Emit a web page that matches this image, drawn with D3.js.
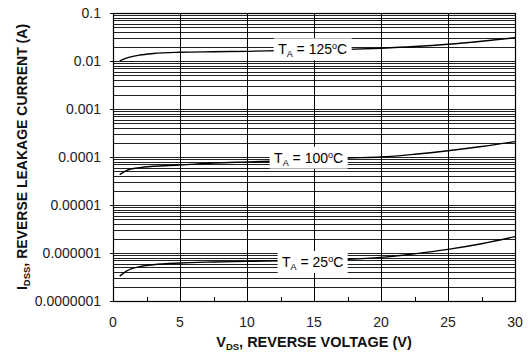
<!DOCTYPE html>
<html>
<head>
<meta charset="utf-8">
<script src="https://cdn.jsdelivr.net/npm/d3@7"></script>
<style>
  body { margin: 0; background: #fff; }
  text { font-family: "Liberation Sans", Arial, sans-serif; }
</style>
</head>
<body>
<div id="chart"></div>
<script>
// reverse leakage current vs reverse voltage, three temperatures
const vds = [0.5, 1, 2, 3, 5, 7.5, 10, 12.5, 15, 17.5, 20, 22.5, 25, 27.5, 30];
const i125 = [0.0101, 0.0115, 0.0133, 0.0143, 0.0152, 0.0156, 0.0159, 0.0165, 0.0170, 0.0175, 0.0185, 0.0200, 0.0223, 0.0258, 0.0306];
const i100 = [0.000043, 0.000052, 0.000060, 0.000064, 0.000068, 0.000075, 0.000079, 0.000083, 0.000088, 0.000095, 0.000100, 0.000114, 0.000135, 0.000165, 0.000209];
const i25 = [0.00000033, 0.00000042, 0.00000052, 0.00000057, 0.00000062, 0.00000065, 0.00000067, 0.00000069, 0.00000071, 0.00000074, 0.00000081, 0.00000096, 0.00000119, 0.00000156, 0.00000219];
const seriesNames = ['125', '100', '25'];
const labelPos = [[14.9, 0.0175], [14.6, 0.000097], [14.9, 0.00000065]]; // label anchor (V, A)
const yTicks = [0.1, 0.01, 0.001, 0.0001, 0.00001, 0.000001, 0.0000001];
const yTickLabels = ['0.1', '0.01', '0.001', '0.0001', '0.00001', '0.000001', '0.0000001'];
const xTicks = [0, 5, 10, 15, 20, 25, 30];

const width = 531, height = 356;
const margin = {top: 13, right: 16, bottom: 55, left: 113};
const plotW = width - margin.left - margin.right;
const plotH = height - margin.top - margin.bottom;

const svg = d3.select('#chart').append('svg')
    .attr('width', width)
    .attr('height', height);
const g = svg.append('g')
    .attr('transform', 'translate(' + margin.left + ',' + margin.top + ')');

const scaleX = d3.scaleLinear().domain([0, 30]).range([0, plotW]);
const scaleY = d3.scaleLog().domain([0.0000001, 0.1]).range([plotH, 0]);

// horizontal grid: every minor log value
const minorY = [];
for (let e = -7; e < -1; e++) {
  for (let m = 1; m < 10; m++)
    minorY.push(m * Math.pow(10, e));
}
minorY.push(0.1);
g.selectAll('.hgrid')
    .data(minorY)
    .enter().append('line')
    .attr('x1', 0).attr('x2', plotW)
    .attr('y1', (d) => Math.round(scaleY(d)) + 0.5)
    .attr('y2', (d) => Math.round(scaleY(d)) + 0.5)
    .attr('stroke', '#222')
    .attr('stroke-width', 1);

// vertical grid
g.selectAll('.vgrid')
    .data(xTicks)
    .enter().append('line')
    .attr('x1', (d) => Math.round(scaleX(d)) + 0.5)
    .attr('x2', (d) => Math.round(scaleX(d)) + 0.5)
    .attr('y1', 0).attr('y2', plotH)
    .attr('stroke', '#000')
    .attr('stroke-width', 1);

// small x ticks at half steps
g.selectAll('.xminor')
    .data(d3.range(2.5, 30, 5))
    .enter().append('line')
    .attr('x1', (d) => Math.round(scaleX(d)) + 0.5)
    .attr('x2', (d) => Math.round(scaleX(d)) + 0.5)
    .attr('y1', plotH).attr('y2', plotH - 4)
    .attr('stroke', '#000');

// frame
g.append('rect')
    .attr('x', 0.5).attr('y', 0.5)
    .attr('width', plotW).attr('height', plotH)
    .attr('fill', 'none')
    .attr('stroke', '#000')
    .attr('stroke-width', 1.2);

// curves
const allSeries = [i125, i100, i25];
const line = d3.line()
    .x((d, i) => scaleX(vds[i]))
    .y((d) => scaleY(d))
    .curve(d3.curveMonotoneX);
g.selectAll('.curve')
    .data(allSeries)
    .enter().append('path')
    .attr('fill', 'none')
    .attr('stroke', '#000')
    .attr('stroke-width', 1.4)
    .attr('d', (d) => line(d));

// temperature labels with white boxes
seriesNames.forEach((name, k) => {
  const cx = scaleX(labelPos[k][0]);
  const cy = scaleY(labelPos[k][1]);
  const lbl = g.append('g').attr('transform', 'translate(' + cx + ',' + cy + ')');
  const boxW = name.length > 2 ? 78 : 70;
  lbl.append('rect')
      .attr('x', -boxW / 2).attr('y', -11)
      .attr('width', boxW).attr('height', 22)
      .attr('fill', '#fff');
  const t = lbl.append('text')
      .attr('text-anchor', 'middle')
      .attr('y', 5)
      .attr('font-size', 14)
      .attr('fill', '#000');
  t.append('tspan').text('T');
  t.append('tspan').attr('font-size', 9).attr('dy', 3).text('A');
  t.append('tspan').attr('dy', -3).text(' = ' + name);
  t.append('tspan').attr('font-size', 9).attr('dy', -5).text('o');
  t.append('tspan').attr('dy', 5).text('C');
});

// y tick labels
g.selectAll('.ylab')
    .data(yTicks)
    .enter().append('text')
    .attr('x', -12)
    .attr('y', (d) => scaleY(d) + 5)
    .attr('text-anchor', 'end')
    .attr('font-size', 14)
    .attr('fill', '#222')
    .text((d, i) => yTickLabels[i]);
g.selectAll('.ytick')
    .data(yTicks)
    .enter().append('line')
    .attr('x1', -3).attr('x2', 0)
    .attr('y1', (d) => Math.round(scaleY(d)) + 0.5)
    .attr('y2', (d) => Math.round(scaleY(d)) + 0.5)
    .attr('stroke', '#000');

// x tick labels
g.selectAll('.xlab')
    .data(xTicks)
    .enter().append('text')
    .attr('x', (d) => scaleX(d))
    .attr('y', plotH + 26)
    .attr('text-anchor', 'middle')
    .attr('font-size', 14)
    .attr('fill', '#222')
    .text((d) => d);

// axis titles
const xt = svg.append('text')
    .attr('x', margin.left + plotW / 2)
    .attr('y', 347)
    .attr('text-anchor', 'middle')
    .attr('font-size', 14.5)
    .attr('font-weight', 'bold')
    .attr('fill', '#111');
xt.append('tspan').text('V');
xt.append('tspan').attr('font-size', 9.5).attr('dy', 3).text('DS');
xt.append('tspan').attr('dy', -3).text(', REVERSE VOLTAGE (V)');

const yt = svg.append('text')
    .attr('transform', 'translate(27,' + (margin.top + plotH / 2) + ') rotate(-90)')
    .attr('text-anchor', 'middle')
    .attr('font-size', 14)
    .attr('font-weight', 'bold')
    .attr('fill', '#111');
yt.append('tspan').text('I');
yt.append('tspan').attr('font-size', 9.5).attr('dy', 3).text('DSS');
yt.append('tspan').attr('dy', -3).text(', REVERSE LEAKAGE CURRENT (A)');
</script>
</body>
</html>
